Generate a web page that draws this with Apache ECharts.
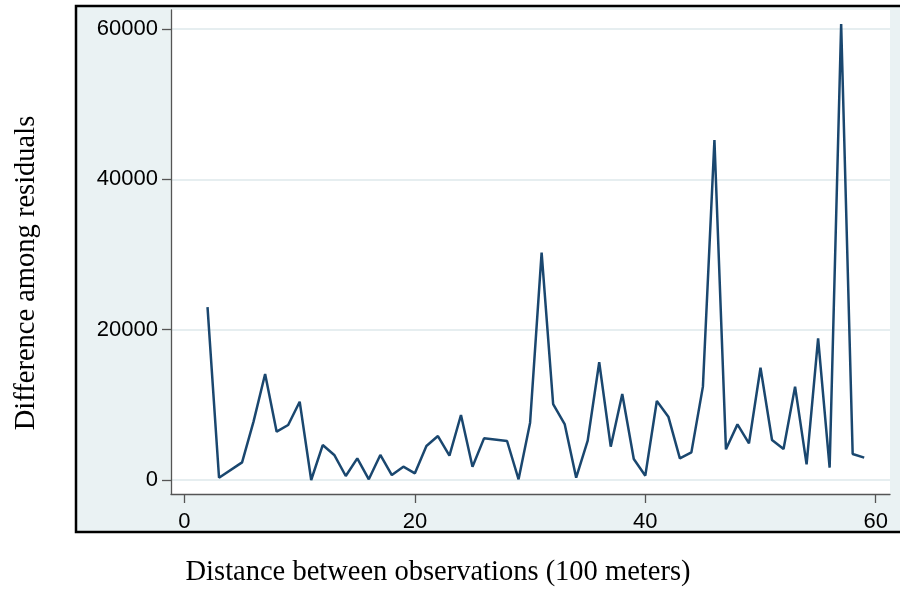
<!DOCTYPE html>
<html>
<head>
<meta charset="utf-8">
<script src="https://cdn.jsdelivr.net/npm/echarts@6/dist/echarts.min.js"></script>
<style>html,body{margin:0;padding:0;background:#fff}#c{width:900px;height:591px}</style>
</head>
<body>
<div id="c"></div>
<script>
const distance = [2,3,5,6,7,8,9,10,11,12,13,14,15,16,17,18,19,20,21,22,23,24,25,26,28,29,30,31,32,33,34,35,36,37,38,39,40,41,42,43,44,45,46,47,48,49,50,51,52,53,54,55,56,57,58,59];
const difference = [23000,300,2350,7800,14100,6430,7320,10420,0,4650,3330,530,2880,90,3330,665,1770,890,4520,5850,3240,8650,1770,5540,5190,90,7630,30240,10110,7450,310,5230,15660,4430,11440,2790,575,10510,8430,2880,3680,12420,45230,4080,7400,4880,14940,5320,4120,12420,2080,18850,1640,60660,3460,2970];
const xTicks = [0,20,40,60];
const yTicks = [0,20000,40000,60000];
const xTitle = 'Distance between observations (100 meters)';
const yTitle = 'Difference among residuals';

const chart = echarts.init(document.getElementById('c'), null, {renderer:'canvas'});
const gridCol = '#e6eef0';
const serif = '28.5px "Liberation Serif", "Times New Roman", serif';
chart.setOption({
  animation:false,
  backgroundColor:'#ffffff',
  graphic:[
    {type:'rect', z:-10, shape:{x:76, y:6, width:830, height:526}, style:{fill:'#eaf2f3', stroke:'#000', lineWidth:2.5}},
    {type:'text', z:10, x:438, y:573, style:{text:xTitle, font:serif, fill:'#000', align:'center', verticalAlign:'middle'}},
    {type:'text', z:10, x:27, y:273, rotation:Math.PI/2, style:{text:yTitle, font:serif, fill:'#000', align:'center', verticalAlign:'middle'}}
  ],
  grid:{left:171, right:10, top:10, bottom:97, show:true, backgroundColor:'#ffffff', borderWidth:0},
  xAxis:{
    type:'value', min:-1.17, max:61.24,
    axisLine:{show:true, onZero:false, lineStyle:{color:'#555', width:1.3}},
    axisTick:{show:true, inside:false, length:9, customValues:xTicks, lineStyle:{color:'#555', width:1.3}},
    axisLabel:{customValues:xTicks, margin:17, fontSize:22, color:'#000', fontFamily:'"Liberation Sans", Arial, sans-serif', formatter:v=>String(v)},
    splitLine:{show:false}
  },
  yAxis:{
    type:'value', min:-1862, max:62528,
    axisLine:{show:true, onZero:false, lineStyle:{color:'#555', width:1.3}},
    axisTick:{show:true, inside:false, length:9, customValues:yTicks, lineStyle:{color:'#555', width:1.3}},
    axisLabel:{customValues:yTicks, margin:13, fontSize:22, color:'#000', fontFamily:'"Liberation Sans", Arial, sans-serif', formatter:v=>String(v)},
    splitLine:{show:true, lineStyle:{color:gridCol, width:2}}
  },
  series:[{
    type:'line',
    data:distance.map((d,i)=>[d, difference[i]]),
    symbol:'none',
    lineStyle:{color:'#1a476f', width:2.5},
    z:5
  }]
});
</script>
</body>
</html>
